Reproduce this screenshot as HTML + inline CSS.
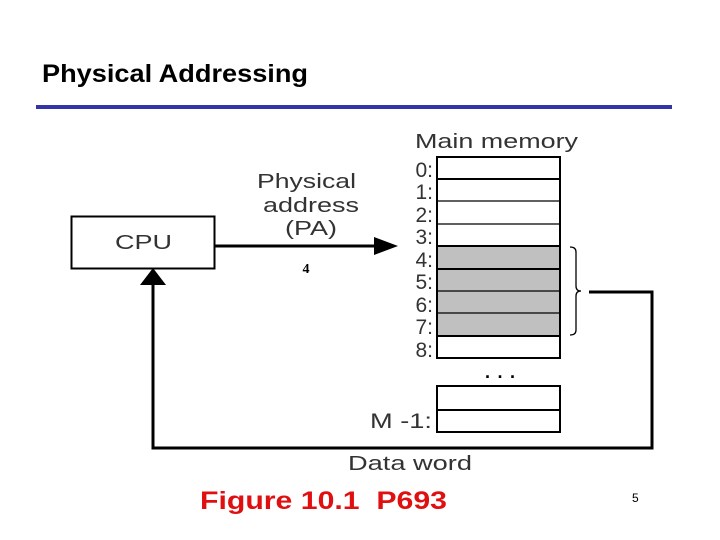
<!DOCTYPE html>
<html><head><meta charset="utf-8"><style>
html,body{margin:0;padding:0;background:#fff;width:720px;height:540px;overflow:hidden}
</style></head><body>
<svg width="720" height="540" xmlns="http://www.w3.org/2000/svg">
<text x="42" y="82" textLength="266" lengthAdjust="spacingAndGlyphs" font-family="Liberation Sans, sans-serif" font-weight="bold" font-size="25" fill="#000">Physical Addressing</text>
<rect x="36" y="105" width="636" height="4" fill="#3333aa"/>
<rect x="71.5" y="216.5" width="143" height="52" fill="#fff" stroke="#000" stroke-width="2"/>
<text x="115" y="249" textLength="57" lengthAdjust="spacingAndGlyphs" font-family="Liberation Sans, sans-serif" font-size="20" fill="#333">CPU</text>
<line x1="215" y1="246" x2="380" y2="246" stroke="#000" stroke-width="3"/>
<polygon points="374,237 398,246 374,255" fill="#000"/>
<g font-family="Liberation Sans, sans-serif" font-size="20" fill="#333">
<text x="257" y="188" textLength="99" lengthAdjust="spacingAndGlyphs">Physical</text>
<text x="263" y="212" textLength="96" lengthAdjust="spacingAndGlyphs">address</text>
<text x="285" y="235" textLength="52" lengthAdjust="spacingAndGlyphs">(PA)</text>
</g>
<text x="306" y="273" text-anchor="middle" font-family="Liberation Serif, serif" font-weight="bold" font-size="14" fill="#000">4</text>
<text x="415" y="148" textLength="163" lengthAdjust="spacingAndGlyphs" font-family="Liberation Sans, sans-serif" font-size="20" fill="#333">Main memory</text>
<rect x="437" y="246" width="123" height="90" fill="#c0c0c0"/>
<g stroke="#000" stroke-width="1.3" fill="none">
<rect x="437" y="157" width="123" height="201" stroke-width="2"/>
<line x1="437" y1="179" x2="560" y2="179" stroke-width="2"/>
<line x1="437" y1="201" x2="560" y2="201"/>
<line x1="437" y1="224" x2="560" y2="224"/>
<line x1="437" y1="246" x2="560" y2="246" stroke-width="2"/>
<line x1="437" y1="269" x2="560" y2="269" stroke-width="2"/>
<line x1="437" y1="291" x2="560" y2="291"/>
<line x1="437" y1="313" x2="560" y2="313"/>
<line x1="437" y1="336" x2="560" y2="336" stroke-width="2"/>
<rect x="437" y="386" width="123" height="46" stroke-width="2"/>
<line x1="437" y1="410" x2="560" y2="410" stroke-width="2"/>
</g>
<g font-family="Liberation Sans, sans-serif" font-size="21" fill="#333" text-anchor="end">
<text x="433" y="177">0:</text>
<text x="433" y="199">1:</text>
<text x="433" y="222">2:</text>
<text x="433" y="244">3:</text>
<text x="433" y="267">4:</text>
<text x="433" y="289">5:</text>
<text x="433" y="312">6:</text>
<text x="433" y="334">7:</text>
<text x="433" y="357">8:</text>
</g>
<text x="370" y="428" textLength="62" lengthAdjust="spacingAndGlyphs" font-family="Liberation Sans, sans-serif" font-size="21" fill="#333">M -1:</text>
<text x="485" y="378" textLength="30" lengthAdjust="spacing" font-family="Liberation Sans, sans-serif" font-weight="bold" font-size="18" fill="#000">...</text>
<path d="M570,247 Q576,247 576,252 L576,286 Q576,291 581,291 Q576,291 576,296 L576,330 Q576,335 570,335" fill="none" stroke="#000" stroke-width="1.3"/>
<polyline points="589,292 652,292 652,448 153,448 153,284" fill="none" stroke="#000" stroke-width="3"/>
<polygon points="140,285 153,268 166,285" fill="#000"/>
<text x="348" y="470" textLength="124" lengthAdjust="spacingAndGlyphs" font-family="Liberation Sans, sans-serif" font-size="20" fill="#333">Data word</text>
<text x="200" y="509" xml:space="preserve" textLength="247" lengthAdjust="spacingAndGlyphs" font-family="Liberation Sans, sans-serif" font-weight="bold" font-size="25" fill="#e01010">Figure 10.1  P693</text>
<text x="632" y="502" font-family="Liberation Sans, sans-serif" font-size="12" fill="#000">5</text>
</svg>
</body></html>
